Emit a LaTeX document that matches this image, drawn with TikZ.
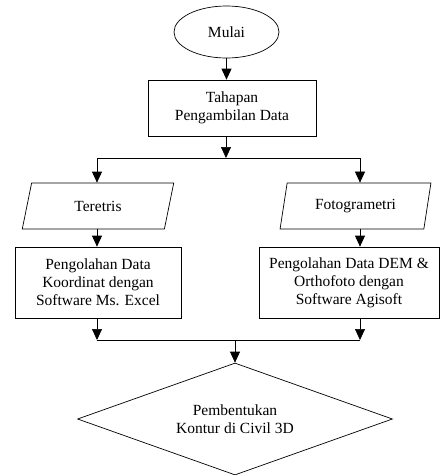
\documentclass[tikz,border=0pt]{standalone}
\usepackage{fontspec}
\setmainfont{Liberation Serif}
\usetikzlibrary{arrows.meta,shapes.geometric}
\begin{document}
\begin{tikzpicture}[x=1pt,y=-1pt,
  every node/.style={font=\fontsize{15.5}{18}\selectfont, align=center, inner sep=2pt},
  ln/.style={draw=black, line width=0.7pt},
  arr/.style={ln, -{Triangle[length=11pt,width=10pt]}},
  procbox/.style={draw, line width=0.7pt, rectangle, minimum width=#1, minimum height=56pt},
  iobox/.style={draw, line width=0.7pt, trapezium, trapezium left angle=76, trapezium right angle=104,
     trapezium stretches=true, minimum width=152pt, minimum height=46pt},
  startnode/.style={draw, line width=0.7pt, ellipse, minimum width=105pt, minimum height=52pt},
  decnode/.style={draw, line width=0.7pt, diamond, aspect=2.8, minimum width=315pt, minimum height=112pt, inner sep=0pt}
]
\useasboundingbox (0,0) rectangle (440,475);

\node[startnode] (mulai) at (226.5,32) {Mulai};
\node[procbox=168pt] (tahap) at (232,108) {Tahapan\\Pengambilan Data};
\node[iobox] (tere) at (98,206) {Teretris};
\node[iobox] (foto) at (355.5,206) {Fotogrametri};
\node[procbox=166pt, minimum height=71pt] (boxL) at (98,282.5) {Pengolahan Data\\Koordinat dengan\\Software Ms. Excel};
\node[procbox=180pt, minimum height=71pt] (boxR) at (349,282.5) {Pengolahan Data DEM \&\\Orthofoto dengan\\Software Agisoft};
\node[decnode] (dia) at (235,419) {Pembentukan\\Kontur di Civil 3D};

\coordinate (j1) at (226,158);
\coordinate (jL) at (97,158);
\coordinate (jR) at (360,158);
\coordinate (jL2) at (97,340);
\coordinate (jR2) at (360,340);
\coordinate (j2) at (235,340);

\draw[arr] (mulai.south) -- (mulai.south |- tahap.north);
\draw[arr] (tahap.south -| j1) -- (j1);
\draw[ln] (jL) -- (jR);
\draw[arr] (jL) -- (tere.north -| jL);
\draw[arr] (jR) -- (foto.north -| jR);
\draw[arr] (tere.south -| jL) -- (boxL.north -| jL);
\draw[arr] (foto.south -| jR) -- (boxR.north -| jR);
\draw[arr] (boxL.south -| jL2) -- (jL2);
\draw[arr] (boxR.south -| jR2) -- (jR2);
\draw[ln] (jL2) -- (jR2);
\draw[arr] (j2) -- (dia.north);
\end{tikzpicture}
\end{document}
